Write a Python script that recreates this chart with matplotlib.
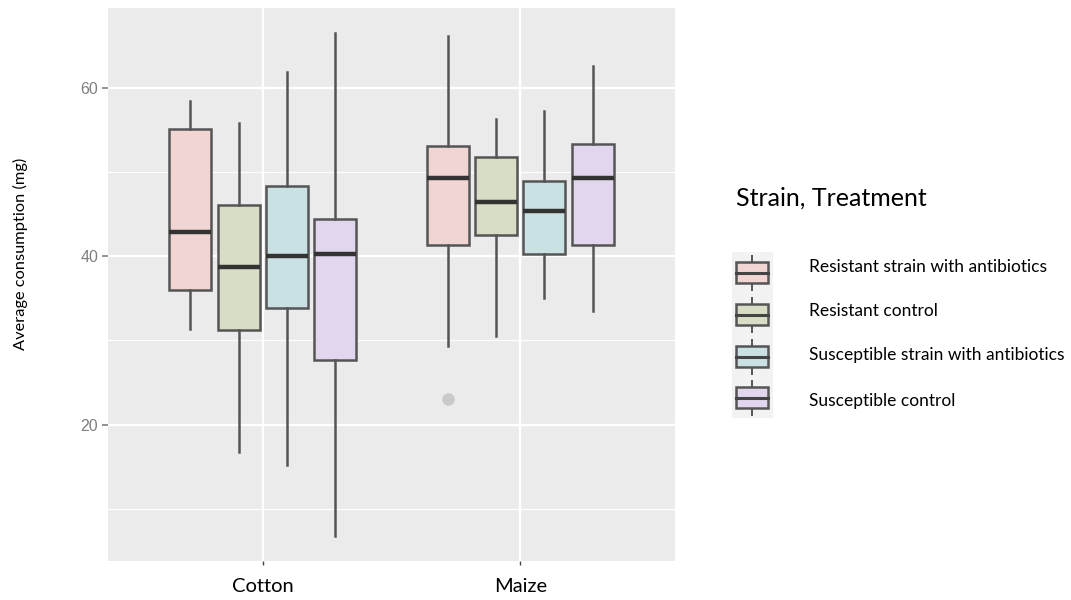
import matplotlib.pyplot as plt
from matplotlib.patches import Rectangle
from matplotlib.ticker import MultipleLocator

plt.rcParams['font.family'] = ['Lato', 'DejaVu Sans']

crops = ['Cotton', 'Maize']
groups = ['Resistant strain with antibiotics', 'Resistant control',
          'Susceptible strain with antibiotics', 'Susceptible control']
fills = ['#F0D5D3', '#D7DEC5', '#C9E1E2', '#E2D6EE']

# values, one row per crop, one column per group
whislo = [[31.4, 16.7, 15.2, 6.8], [29.4, 30.5, 35.0, 33.5]]
q1 = [[36.0, 31.3, 33.9, 27.7], [41.3, 42.5, 40.3, 41.4]]
med = [[42.9, 38.7, 40.0, 40.3], [49.3, 46.4, 45.4, 49.3]]
q3 = [[55.1, 46.1, 48.4, 44.4], [53.1, 51.8, 49.0, 53.3]]
whishi = [[58.5, 55.8, 61.9, 66.5], [66.2, 56.3, 57.3, 62.6]]
fliers = [[[], [], [], []], [[23.1], [], [], []]]

W, H = 1071, 600
fig = plt.figure(figsize=(W / 100, H / 100), dpi=100)

def px(x0, y0, x1, y1):
    # pixel box -> figure fraction rect
    return [x0 / W, 1 - y1 / H, (x1 - x0) / W, (y1 - y0) / H]

ax = fig.add_axes(px(108, 8, 675, 561))
ax.set_facecolor('#EBEBEB')
for s in ax.spines.values():
    s.set_visible(False)

offsets = [-0.28, -0.093, 0.093, 0.28]
edge = '#555555'
for ci in range(len(crops)):
    for gi in range(len(groups)):
        st = dict(whislo=whislo[ci][gi], q1=q1[ci][gi], med=med[ci][gi],
                  q3=q3[ci][gi], whishi=whishi[ci][gi], fliers=fliers[ci][gi])
        ax.bxp([st], positions=[ci + 1 + offsets[gi]], widths=0.163,
               patch_artist=True, showcaps=False, zorder=3,
               boxprops=dict(facecolor=fills[gi], edgecolor=edge, linewidth=1.8),
               whiskerprops=dict(color=edge, linewidth=1.8),
               medianprops=dict(color='#333333', linewidth=3.2),
               flierprops=dict(marker='o', markersize=8, markerfacecolor='#C9C9C9',
                               markeredgecolor='#C9C9C9'))

ax.set_xlim(0.4, 2.6)
ax.set_ylim(3.8, 69.5)
ax.set_xticks([1, 2])
ax.set_xticklabels(crops, fontsize=14.5, color='black')
ax.yaxis.set_major_locator(MultipleLocator(20))
ax.yaxis.set_minor_locator(MultipleLocator(10))
ax.set_yticks([20, 40, 60])
ax.set_yticklabels(['20', '40', '60'], fontsize=11.5, color='#7F7F7F',
                   family=['Liberation Sans', 'DejaVu Sans'])
ax.tick_params(axis='y', which='major', length=4, width=1.2, color='#7F7F7F', pad=3)
ax.tick_params(axis='y', which='minor', length=0)
ax.tick_params(axis='x', length=3, width=1, color='#444444', pad=9)
ax.grid(True, which='major', color='white', linewidth=1.6, zorder=0)
ax.grid(True, which='minor', axis='y', color='white', linewidth=0.8, zorder=0)
ax.set_axisbelow(True)

fig.text(20 / W, 1 - 254 / H, 'Average consumption (mg)', fontsize=11.8,
         rotation=90, ha='center', va='center')

# legend, drawn by hand in pixel units
lax = fig.add_axes(px(732, 252, 773, 418))
lax.set_xlim(732, 773)
lax.set_ylim(418, 252)
lax.axis('off')
lax.add_patch(Rectangle((732, 252), 41, 166, facecolor='#F2F2F2', edgecolor='none'))
key_y = [273, 315, 357, 398]
text_y = [267, 311, 355, 401]
for gi, yc in enumerate(key_y):
    lax.plot([752, 752], [yc - 17, yc + 17], color=edge, linewidth=1.4)
    lax.add_patch(Rectangle((736, yc - 10.5), 32, 21, facecolor=fills[gi],
                            edgecolor=edge, linewidth=1.8, zorder=3))
    lax.plot([736, 768], [yc, yc], color='#444444', linewidth=2.2, zorder=4)
    fig.text(809 / W, 1 - text_y[gi] / H, groups[gi], fontsize=12.5,
             va='center', ha='left')

fig.text(736 / W, 1 - 198 / H, 'Strain, Treatment', fontsize=18, va='center', ha='left')

fig.savefig('out.png', dpi=100)
